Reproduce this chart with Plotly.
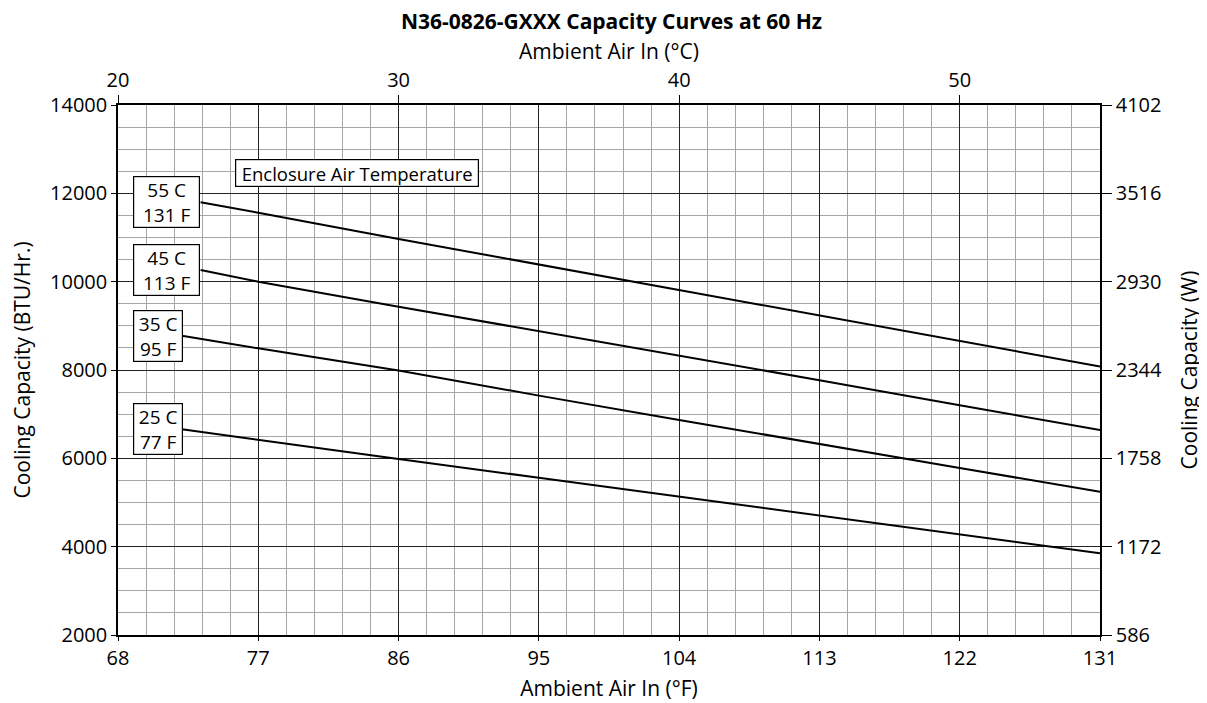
import plotly.graph_objects as go

# Ambient air in (°F) sample points of each curve (curves start at label box edge)
ambient_f_hi = [73.3, 77, 86, 95, 104, 113, 122, 131]
ambient_f_lo = [72.1, 77, 86, 95, 104, 113, 122, 131]

# Cooling capacity (BTU/Hr) per enclosure air temperature
cap_55c = [11797, 11560, 10966, 10390, 9812, 9235, 8660, 8080]
cap_45c = [10265, 10000, 9434, 8880, 8324, 7770, 7200, 6640]
cap_35c = [8777, 8490, 7990, 7420, 6870, 6320, 5780, 5245]
cap_25c = [6658, 6416, 5986, 5560, 5130, 4700, 4275, 3850]

series_labels = ["55 C<br>131 F", "45 C<br>113 F", "35 C<br>95 F", "25 C<br>77 F"]
series_values = [cap_55c, cap_45c, cap_35c, cap_25c]
series_x = [ambient_f_hi, ambient_f_hi, ambient_f_lo, ambient_f_lo]
label_box_w = [63, 63, 46, 46]

btu_ticks = [2000, 4000, 6000, 8000, 10000, 12000, 14000]
watt_ticktext = ["586", "1172", "1758", "2344", "2930", "3516", "4102"]
celsius_ticks = [20, 30, 40, 50]
f_ticks = [68, 77, 86, 95, 104, 113, 122, 131]

FONT = "Open Sans"
TICK = 20
TITLE = 21

fig = go.Figure()
for xs, vals in zip(series_x, series_values):
    fig.add_trace(go.Scatter(x=xs, y=vals, mode="lines",
                             line=dict(color="black", width=2),
                             hoverinfo="skip", showlegend=False))

# invisible trace to activate the secondary axes
fig.add_trace(go.Scatter(x=[20, 55], y=[2000, 14000], xaxis="x2", yaxis="y2",
                         mode="markers", marker=dict(opacity=0),
                         hoverinfo="skip", showlegend=False))

annotations = []
for lab, xs, vals, w in zip(series_labels, series_x, series_values, label_box_w):
    annotations.append(dict(x=68.95, y=vals[0], xref="x", yref="y", text=lab,
                            showarrow=False, xanchor="left", yanchor="middle",
                            align="center", valign="middle", width=w, height=48,
                            font=dict(family=FONT, size=19, color="black"),
                            bgcolor="white", bordercolor="black",
                            borderwidth=1.2, borderpad=1))
annotations.append(dict(x=75.5, y=12460, xref="x", yref="y",
                        text="Enclosure Air Temperature", showarrow=False,
                        xanchor="left", yanchor="middle", width=240, height=24,
                        font=dict(family=FONT, size=18.5, color="black"),
                        bgcolor="white", bordercolor="black",
                        borderwidth=1.2, borderpad=1))

fig.update_layout(
    width=1207, height=703,
    margin=dict(l=110, r=115, t=97, b=76, autoexpand=False),
    paper_bgcolor="white", plot_bgcolor="white",
    font=dict(family=FONT, size=TICK, color="black"),
    title=dict(text="<b>N36-0826-GXXX Capacity Curves at 60 Hz</b>",
               x=0.5, xanchor="center", y=1 - 14 / 703, yanchor="middle",
               font=dict(family=FONT, size=21, color="black")),
    xaxis=dict(range=[68, 131], tickvals=f_ticks, showgrid=True,
               gridcolor="#222222", gridwidth=1.3,
               minor=dict(dtick=1.8, tick0=68, showgrid=True,
                          gridcolor="#a6a6a6", gridwidth=1.2),
               showline=True, linecolor="black", linewidth=1.5,
               ticks="outside", ticklen=4, tickcolor="black",
               zeroline=False, automargin=False,
               title=dict(text="Ambient Air In (°F)", standoff=12,
                          font=dict(size=TITLE)),
               tickfont=dict(size=TICK)),
    yaxis=dict(range=[2000, 14000], tickvals=btu_ticks, tickformat="d",
               showgrid=True, gridcolor="#222222", gridwidth=1.3,
               minor=dict(dtick=500, tick0=2000, showgrid=True,
                          gridcolor="#a6a6a6", gridwidth=1.2),
               showline=True, linecolor="black", linewidth=1.5,
               ticks="outside", ticklen=5, tickcolor="black",
               zeroline=False, automargin=False,
               title=dict(text="Cooling Capacity (BTU/Hr.)", standoff=23,
                          font=dict(size=TITLE)),
               tickfont=dict(size=TICK)),
    xaxis2=dict(range=[20, 55], tickvals=celsius_ticks, overlaying="x",
                side="top", anchor="y2", showgrid=False, zeroline=False,
                showline=True, linecolor="black", linewidth=1.5,
                ticks="outside", ticklen=8, tickcolor="black",
                automargin=False,
                title=dict(text="Ambient Air In (°C)", standoff=1,
                           font=dict(size=TITLE)),
                tickfont=dict(size=TICK)),
    yaxis2=dict(range=[2000, 14000], tickvals=btu_ticks,
                ticktext=watt_ticktext, overlaying="y", side="right",
                anchor="x2", showgrid=False, zeroline=False,
                showline=True, linecolor="black", linewidth=1.5,
                ticks="outside", ticklen=10, tickcolor="black",
                automargin=False,
                title=dict(text="Cooling Capacity (W)", standoff=21,
                           font=dict(size=TITLE)),
                tickfont=dict(size=TICK)),
    annotations=annotations,
)

fig.write_html("out.html")
